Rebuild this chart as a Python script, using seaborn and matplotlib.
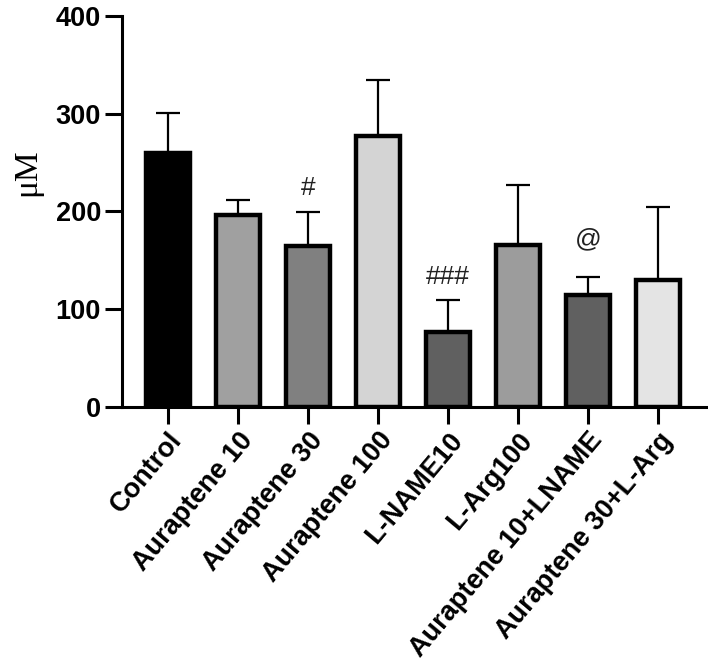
import numpy as np
import pandas as pd
import matplotlib
matplotlib.use("Agg")
import matplotlib.pyplot as plt
import seaborn as sns

categories = ["Control", "Auraptene 10", "Auraptene 30", "Auraptene 100",
              "L-NAME10", "L-Arg100", "Auraptene 10+LNAME", "Auraptene 30+L-Arg"]
means = [260, 196, 165, 277, 77, 166, 114, 130]
errors = [41, 16, 34, 58, 32, 61, 19, 75]
bar_colors = ["#000000", "#a0a0a0", "#808080", "#d4d4d4",
              "#606060", "#9c9c9c", "#606060", "#e4e4e4"]
annot_labels = ["", "", "#", "", "###", "", "@", ""]
annot_y = [0, 0, 224, 0, 133, 0, 171, 0]
yticks = [0, 100, 200, 300, 400]

sns.set_style("ticks")
plt.rcParams['font.family'] = ['Liberation Sans', 'DejaVu Sans']
plt.rcParams['text.color'] = 'black'
plt.rcParams['xtick.color'] = 'black'
plt.rcParams['ytick.color'] = 'black'
plt.rcParams['axes.labelcolor'] = 'black'
plt.rcParams['axes.edgecolor'] = 'black'

df = pd.DataFrame({"group": categories, "value": means})

fig = plt.figure(figsize=(7.08, 6.69), dpi=100)
ax = fig.add_axes([0.172, 0.392, 0.828, 0.584])

sns.barplot(data=df, x="group", y="value", hue="group", palette=bar_colors,
            legend=False, errorbar=None, width=0.63, edgecolor="black",
            linewidth=3.2, ax=ax, order=categories, hue_order=categories)

xpos = np.arange(len(categories))
ax.errorbar(xpos, means, yerr=[np.zeros(len(errors)), errors], fmt="none",
            ecolor="black", elinewidth=1.6, capsize=8.5, capthick=1.6, zorder=1)

for i, lab in enumerate(annot_labels):
    if lab:
        ax.text(i, annot_y[i], lab, ha="center", va="center",
                fontsize=19, color="#222222",
                family=["Liberation Sans", "DejaVu Sans"])

ax.set_ylim(0, 400)
ax.set_xlim(-0.66, 7.71)
ax.set_yticks(yticks)
ax.set_yticklabels([str(t) for t in yticks], fontsize=19.5, fontweight="bold")
ax.set_xticks(xpos)
ax.set_xticklabels(categories, rotation=50, ha="right", rotation_mode="anchor",
                   fontsize=19.5, fontweight="bold")
ax.set_xlabel("")
ax.set_ylabel("μM", fontsize=24, family=["Liberation Serif", "DejaVu Serif"])
ax.yaxis.set_label_coords(-0.135, 0.60)

for s in ["top", "right"]:
    ax.spines[s].set_visible(False)
for s in ["left", "bottom"]:
    ax.spines[s].set_linewidth(2.2)
ax.tick_params(axis="both", length=12, width=2.2, pad=3)

fig.savefig("out.png", dpi=100)
